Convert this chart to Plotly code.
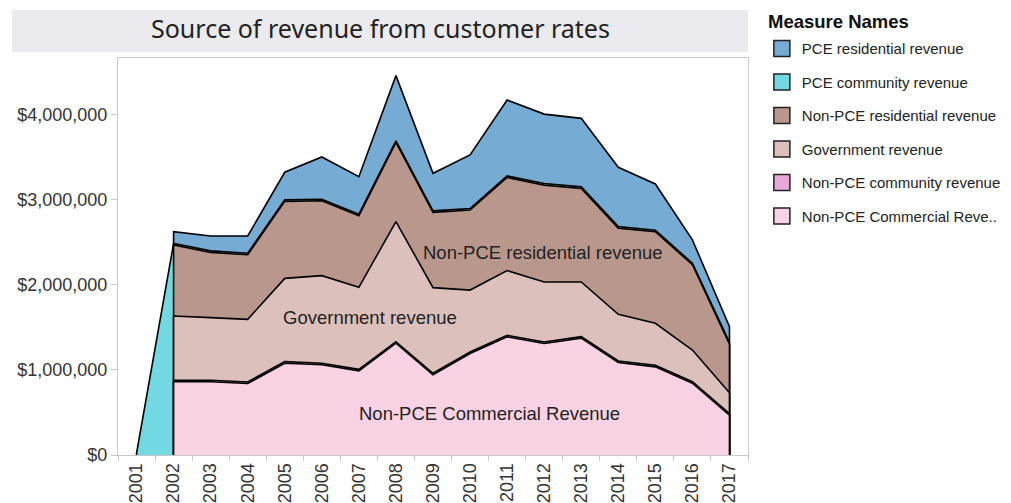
import plotly.graph_objects as go

years = [str(y) for y in range(2001, 2018)]

# values in dollars, stacked bottom -> top
nonpce_commercial = [None, 861000, 861000, 841000, 1080000, 1061000, 990000, 1315000, 943000, 1194000, 1390000, 1311000, 1374000, 1088000, 1037000, 845000, 468000]
nonpce_community = [None, 18000, 18000, 18000, 18000, 18000, 18000, 18000, 18000, 18000, 18000, 18000, 18000, 18000, 18000, 18000, 18000]
government = [None, 756000, 737000, 737000, 980000, 1031000, 965000, 1412000, 1008000, 728000, 761000, 706000, 643000, 549000, 494000, 372000, 247000]
nonpce_residential = [None, 835000, 767000, 760000, 905000, 881000, 842000, 932000, 885000, 941000, 1096000, 1140000, 1101000, 1014000, 1077000, 1003000, 572000]
pce_community = [20000, 18000, 18000, 18000, 18000, 18000, 18000, 18000, 18000, 18000, 18000, 18000, 18000, 18000, 18000, 18000, 18000]
pce_residential = [None, 139000, 175000, 202000, 325000, 497000, 441000, 768000, 442000, 631000, 893000, 817000, 806000, 698000, 544000, 274000, 187000]

y_tick_values = [0, 1000000, 2000000, 3000000, 4000000]
y_tick_labels = ["$" + format(v, ",d") for v in y_tick_values]

series_bottom_up = [
    ("Non-PCE Commercial Reve..", nonpce_commercial, "#f9d2e3"),
    ("Non-PCE community revenue", nonpce_community, "#eaa8d8"),
    ("Government revenue", government, "#dcc0bb"),
    ("Non-PCE residential revenue", nonpce_residential, "#b9978d"),
    ("PCE community revenue", pce_community, "#72d8e1"),
    ("PCE residential revenue", pce_residential, "#76abd3"),
]

# cumulative stacks
running = [0.0] * len(years)
stacked = []
for name, vals, color in series_bottom_up:
    cum = []
    for i, v in enumerate(vals):
        if v is None:
            cum.append(None)
        else:
            running[i] += v
            cum.append(running[i])
    stacked.append((name, cum, color))

fig = go.Figure()

# paint top series first, lower ones over them (each filled to zero)
for name, cum, color in reversed(stacked):
    xs = [years[i] for i, v in enumerate(cum) if v is not None]
    ys = [v for v in cum if v is not None]
    xs = [xs[0]] + xs + [xs[-1]]
    ys = [0] + ys + [0]
    fig.add_trace(go.Scatter(
        x=xs, y=ys, mode="lines", fill="tozeroy", fillcolor=color,
        line=dict(color="black", width=1.6), showlegend=False, hoverinfo="skip",
    ))

# legend entries (top series first)
for i, (name, cum, color) in enumerate(reversed(stacked)):
    fig.add_trace(go.Scatter(
        x=[None], y=[None], mode="markers", name=name, legendgroup=f"g{i}",
        marker=dict(symbol="square", size=18, color=color, line=dict(color="#222", width=1.5)),
    ))

axis_font = dict(family="Liberation Sans, Arial, sans-serif", size=18, color="#333")
label_font = dict(family="Liberation Sans, Arial, sans-serif", size=18.5, color="#222")

fig.update_layout(
    width=1011, height=503,
    margin=dict(l=118, r=263, t=58, b=48, autoexpand=False),
    paper_bgcolor="white", plot_bgcolor="white",
    font=dict(family="Liberation Sans, Arial, sans-serif", color="#222"),
    xaxis=dict(
        type="category", categoryorder="array", categoryarray=years,
        range=[-0.5, 16.5], tickson="boundaries", ticks="outside", ticklen=5,
        tickcolor="#c8c8c8", tickangle=-90, tickfont=axis_font, automargin=False,
        showline=True, linecolor="#c8c8c8", linewidth=1, mirror=True,
        showgrid=False, zeroline=False, fixedrange=True,
    ),
    yaxis=dict(
        range=[0, 4670000], tickvals=y_tick_values, ticktext=y_tick_labels,
        ticks="outside", ticklen=6, tickcolor="#c8c8c8", automargin=False,
        tickfont=axis_font, showline=True, linecolor="#c8c8c8", linewidth=1, mirror=True,
        showgrid=False, zeroline=False,
    ),
    legend=dict(
        x=1.022, y=1.065, xanchor="left", yanchor="top",
        font=dict(size=15, color="#222"), tracegroupgap=11,
    ),
    shapes=[dict(type="rect", xref="paper", yref="paper", x0=-0.168, x1=1.0, y0=1.015, y1=1.121,
                 fillcolor="#ebebef", line=dict(width=0), layer="below")],
    annotations=[
        dict(text="Source of revenue from customer rates", xref="paper", yref="paper",
             x=0.416, y=1.075, showarrow=False, xanchor="center", yanchor="middle",
             font=dict(family="Noto Sans, Open Sans, sans-serif", size=25, color="#222")),
        dict(text="<b>Measure Names</b>", xref="paper", yref="paper",
             x=1.0286, y=1.0907, showarrow=False, xanchor="left", yanchor="middle",
             font=dict(size=18.5, color="#111")),
        dict(text="Non-PCE residential revenue", x=10.98, y=2380000, showarrow=False,
             font=label_font),
        dict(text="Government revenue", x=6.29, y=1620000, showarrow=False,
             font=label_font),
        dict(text="Non-PCE Commercial Revenue", x=9.52, y=490000, showarrow=False,
             font=label_font),
    ],
)

fig.write_html("out.html", config={"displayModeBar": False},
               post_script="document.body.style.margin='0';")
